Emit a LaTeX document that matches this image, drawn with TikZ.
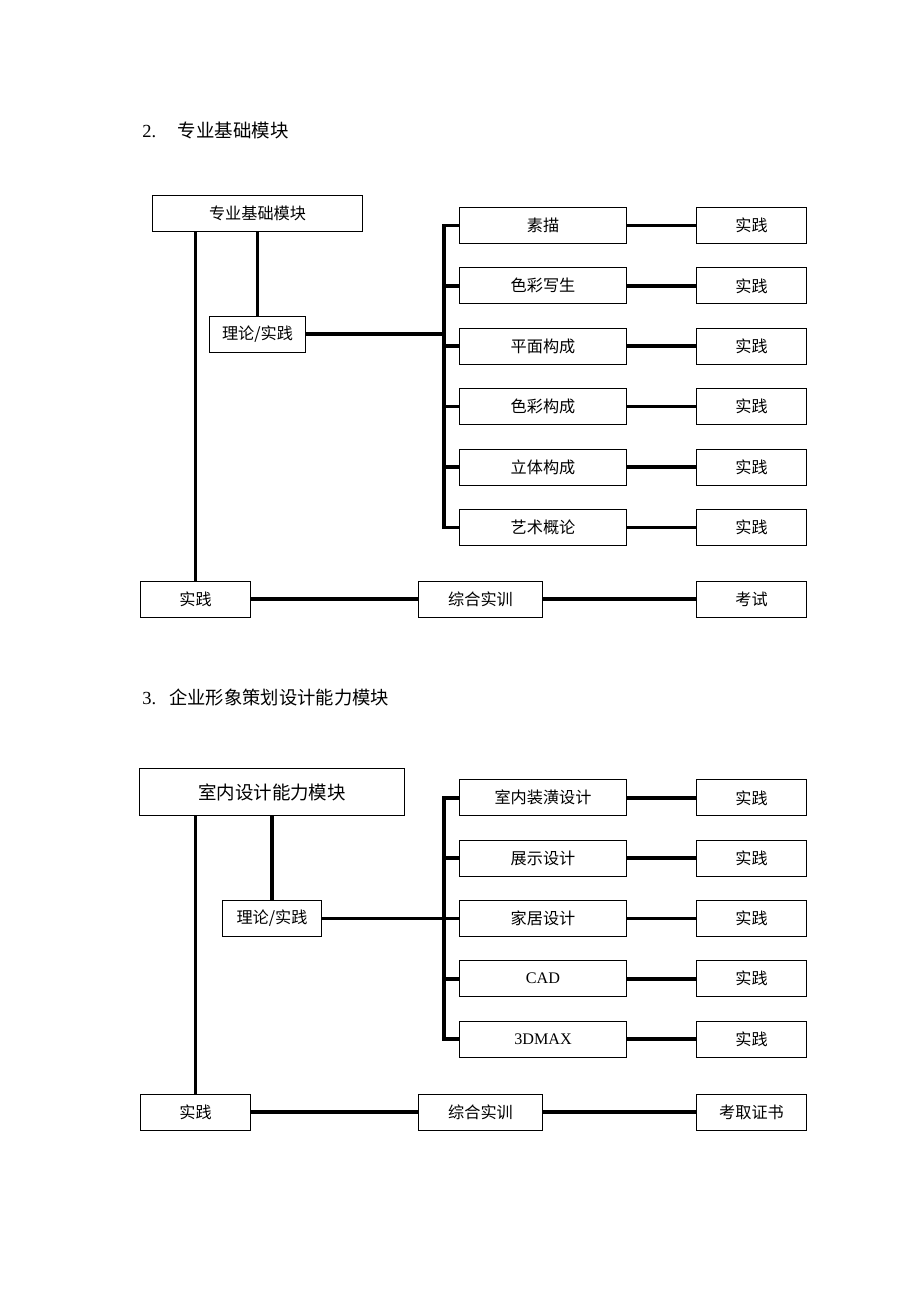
\documentclass[tikz,border=0pt]{standalone}
\usepackage{fontspec}
\setmainfont{Liberation Serif}
\newfontfamily\cjk{Noto Sans CJK SC}
\usetikzlibrary{positioning}

\begin{document}
\begin{tikzpicture}[x=0.65pt,y=-0.65pt,
  box/.style={draw,line width=0.65pt,inner sep=0pt,font=\cjk\fontsize{10.5}{12}\selectfont},
  branch/.style={box,minimum width=109pt,minimum height=23.4pt},
  pbox/.style={box,minimum width=72pt,minimum height=23.4pt},
  mbox/.style={box,minimum width=81pt,minimum height=23.4pt},
  conn/.style={line width=2.4pt}]
\useasboundingbox (0,0) rectangle (920,1302);

\node[anchor=base west,font=\fontsize{12}{14}\selectfont] (title2) at (137,137) {2.\hspace{14pt}{\cjk 专业基础模块}};
\node[box,minimum width=136pt,minimum height=23pt] (top2) at (257.5,213.5) {专业基础模块};
\node[box,minimum width=63pt,minimum height=23.4pt] (ll2) at (257.5,334) {理论/实践};
\coordinate (bus2) at (444,334);
\foreach \t [count=\i] in {素描,色彩写生,平面构成,色彩构成,立体构成,艺术概论}{
  \node[branch] (a\i) at (543,165+60.4*\i) {\t};
  \node[pbox] (p\i) at (751.5,165+60.4*\i) {实践};
  \draw[conn] (a\i.east) -- (p\i.west);
}
\foreach \i in {2,...,5}
  \draw[conn] (a\i.west -| bus2) -- (a\i.west);
\node[pbox] (sj2) at (195.5,599) {实践};
\node[mbox] (zh2) at (480.5,599) {综合实训};
\node[pbox] (ks2) at (751.5,599) {考试};
\draw[conn] (sj2.north) -- (sj2.north |- top2.south);
\draw[conn] (ll2.north) -- (ll2.north |- top2.south);
\draw[conn] (ll2.east) -- (bus2);
\draw[conn] (a1.west) -- (a1.west -| bus2) -- (a6.west -| bus2) -- (a6.west);
\draw[conn] (sj2) -- (zh2);
\draw[conn] (zh2) -- (ks2);

\node[anchor=base west,font=\fontsize{12}{14}\selectfont] (title3) at (137,704) {3.\hspace{8.5pt}{\cjk\fontsize{11.9}{14}\selectfont 企业形象策划设计能力模块}};
\node[box,minimum width=172pt,minimum height=31pt,font=\cjk\fontsize{12}{14}\selectfont] (top3) at (272,792) {室内设计能力模块};
\node[box,minimum width=64pt,minimum height=24pt] (ll3) at (272,918.5) {理论/实践};
\coordinate (bus3) at (444,918.5);
\foreach \t [count=\i] in {室内装潢设计,展示设计,家居设计,{\rmfamily CAD},{\rmfamily 3DMAX}}{
  \node[branch] (c\i) at (543,737.5+60.3*\i) {\t};
  \node[pbox] (q\i) at (751.5,737.5+60.3*\i) {实践};
  \draw[conn] (c\i.east) -- (q\i.west);
}
\foreach \i in {2,...,4}
  \draw[conn] (c\i.west -| bus3) -- (c\i.west);
\node[pbox] (sj3) at (195.5,1112) {实践};
\node[mbox] (zh3) at (480.5,1112) {综合实训};
\node[pbox] (zs3) at (751.5,1112) {考取证书};
\draw[conn] (sj3.north) -- (sj3.north |- top3.south);
\draw[conn] (ll3.north) -- (ll3.north |- top3.south);
\draw[conn] (ll3.east) -- (bus3);
\draw[conn] (c1.west) -- (c1.west -| bus3) -- (c5.west -| bus3) -- (c5.west);
\draw[conn] (sj3) -- (zh3);
\draw[conn] (zh3) -- (zs3);
\end{tikzpicture}
\end{document}
